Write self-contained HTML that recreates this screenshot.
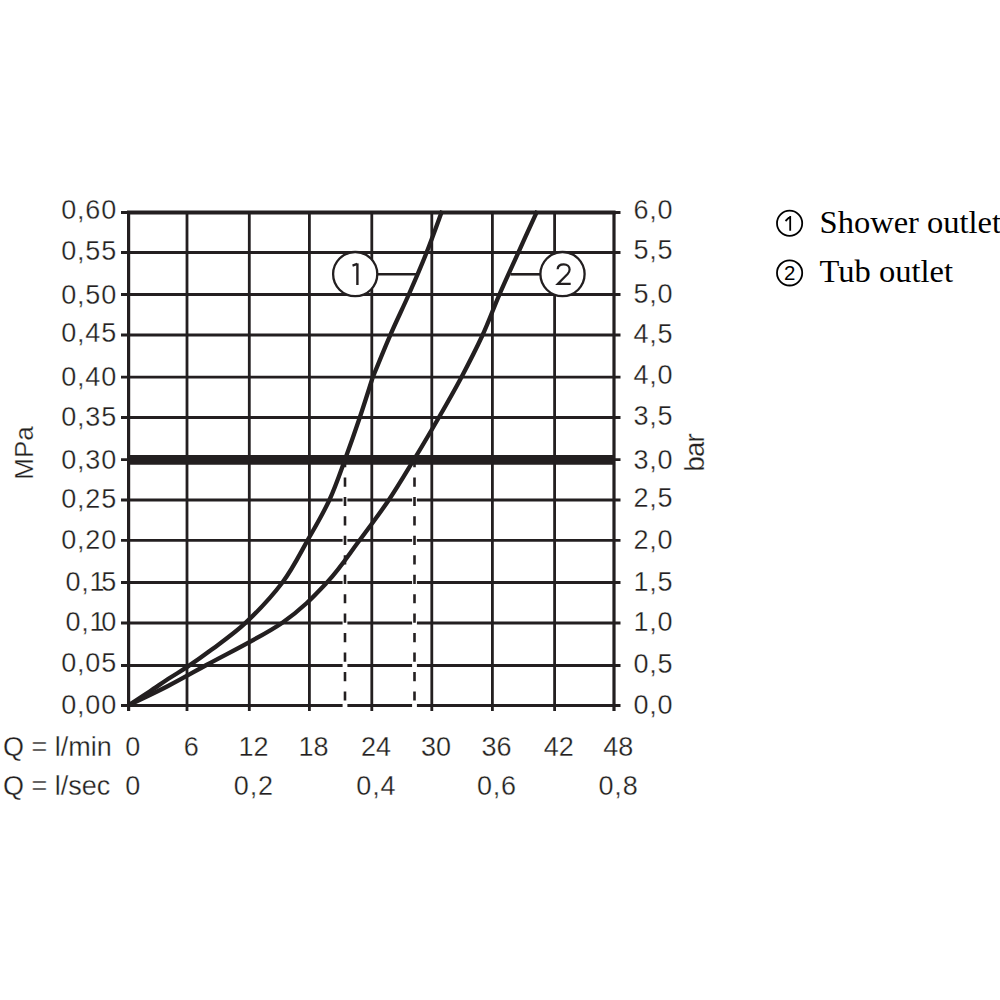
<!DOCTYPE html>
<html><head><meta charset="utf-8"><title>Pressure flow chart</title>
<style>
html,body{margin:0;padding:0;background:#fff;}
body{width:1000px;height:1000px;overflow:hidden;position:relative;}
svg{position:absolute;left:0;top:0;display:block;}
.s{font-family:"Liberation Sans",sans-serif;}
</style></head><body>
<svg width="1000" height="1000" viewBox="0 0 1000 1000" font-family="Liberation Sans, sans-serif">
<g stroke="#231f20" fill="none" stroke-linecap="butt">
<line x1="128.6" y1="211.0" x2="128.6" y2="711" stroke-width="3.2"/>
<line x1="187.0" y1="212.5" x2="187.0" y2="711" stroke-width="2.8"/>
<line x1="249.3" y1="212.5" x2="249.3" y2="711" stroke-width="2.8"/>
<line x1="309.4" y1="212.5" x2="309.4" y2="711" stroke-width="2.8"/>
<line x1="371.8" y1="212.5" x2="371.8" y2="711" stroke-width="2.8"/>
<line x1="431.8" y1="212.5" x2="431.8" y2="711" stroke-width="2.8"/>
<line x1="492.4" y1="212.5" x2="492.4" y2="711" stroke-width="2.8"/>
<line x1="554.6" y1="212.5" x2="554.6" y2="711" stroke-width="2.8"/>
<line x1="614.0" y1="211.0" x2="614.0" y2="711" stroke-width="3.2"/>
<line x1="121" y1="212.5" x2="620.5" y2="212.5" stroke-width="2.8"/>
<line x1="127" y1="212.5" x2="615.6" y2="212.5" stroke-width="3.8"/>
<line x1="121" y1="252.5" x2="620.5" y2="252.5" stroke-width="2.8"/>
<line x1="121" y1="294.5" x2="620.5" y2="294.5" stroke-width="2.8"/>
<line x1="121" y1="335.0" x2="620.5" y2="335.0" stroke-width="2.8"/>
<line x1="121" y1="377.2" x2="620.5" y2="377.2" stroke-width="2.8"/>
<line x1="121" y1="417.5" x2="620.5" y2="417.5" stroke-width="2.8"/>
<line x1="121" y1="500.0" x2="620.5" y2="500.0" stroke-width="2.8"/>
<line x1="121" y1="540.3" x2="620.5" y2="540.3" stroke-width="2.8"/>
<line x1="121" y1="582.5" x2="620.5" y2="582.5" stroke-width="2.8"/>
<line x1="121" y1="623.0" x2="620.5" y2="623.0" stroke-width="2.8"/>
<line x1="121" y1="665.5" x2="620.5" y2="665.5" stroke-width="2.8"/>
<line x1="121" y1="705.5" x2="620.5" y2="705.5" stroke-width="2.8"/>
<line x1="127" y1="705.5" x2="615.6" y2="705.5" stroke-width="3.2"/>
<line x1="128" y1="459.85" x2="615" y2="459.85" stroke-width="9.9"/>
<line x1="121" y1="459.6" x2="620.5" y2="459.6" stroke-width="2.6"/>
<line x1="345.0" y1="465" x2="345.0" y2="708" stroke="#fff" stroke-width="4.8"/>
<line x1="345.0" y1="458.5" x2="345.0" y2="705" stroke-width="2.6" stroke-dasharray="9.2 10.25" stroke-dashoffset="0.5"/>
<line x1="414.5" y1="465" x2="414.5" y2="708" stroke="#fff" stroke-width="4.8"/>
<line x1="414.5" y1="458.5" x2="414.5" y2="705" stroke-width="2.6" stroke-dasharray="9.2 10.25" stroke-dashoffset="0.5"/>
<path d="M129.0,705.0 C132.5,702.7 143.2,695.7 150.0,691.2 C156.8,686.7 163.7,681.9 170.0,677.8 C176.3,673.7 181.3,670.9 188.0,666.4 C194.7,661.9 200.4,658.0 210.0,650.8 C219.6,643.5 233.4,634.3 245.5,622.9 C257.6,611.5 272.0,596.3 282.4,582.5 C292.8,568.7 299.9,553.9 307.7,540.1 C315.5,526.4 323.2,513.4 329.4,500.0 C335.6,486.6 340.0,473.3 345.0,459.6 C350.0,445.9 355.0,431.6 359.6,418.0 C364.2,404.4 370.4,384.7 372.5,378.0" fill="none" stroke-width="4.3" stroke-linejoin="round"/>
<path d="M372.5,378.0 C375.4,370.9 384.1,349.2 390.2,335.3 C396.2,321.4 402.7,308.3 408.8,294.5 C414.9,280.7 421.1,266.4 426.6,252.5 C432.2,238.6 439.5,217.8 442.1,210.8" fill="none" stroke-width="4.3" stroke-linejoin="round"/>
<path d="M129.0,705.0 C135.5,701.8 155.1,692.7 168.0,686.0 C180.9,679.3 187.4,675.5 206.4,665.0 C225.4,654.5 261.9,636.7 282.0,622.9 C302.1,609.1 314.1,596.1 327.0,582.4 C339.9,568.7 349.1,554.2 359.4,540.5 C369.7,526.8 379.7,513.5 388.8,500.0 C397.9,486.5 405.6,473.3 414.0,459.5 C422.4,445.7 431.1,430.9 439.0,417.2 C446.9,403.5 454.0,391.1 461.3,377.4 C468.6,363.7 476.2,348.8 482.6,335.0 C489.0,321.2 493.4,308.3 499.4,294.6 C505.3,280.9 512.0,266.6 518.3,252.6 C524.6,238.6 534.1,217.8 537.3,210.8" fill="none" stroke-width="4.3" stroke-linejoin="round"/>
<line x1="377" y1="274.3" x2="417" y2="274.3" stroke-width="2.6"/>
<line x1="510.5" y1="274.3" x2="541" y2="274.3" stroke-width="2.6"/>
<circle cx="355.2" cy="274.1" r="22.1" fill="#fff" stroke-width="2.3"/>
<circle cx="562.5" cy="274.1" r="22.1" fill="#fff" stroke-width="2.3"/>
<path d="M357.4,263.4 L357.4,285" stroke-width="2.4"/>
<path d="M352.5,265.6 L357.2,263.9" stroke-width="2.2"/>
<path d="M557.6,269.2 C557.8,265.8 560.5,264.3 563.8,264.3 C567.3,264.3 569.6,266.6 569.6,269.4 C569.6,271.2 568.8,272.6 567.6,274 L557.8,283.9 L570.7,283.9" stroke-width="2.2" stroke-linejoin="miter"/>
</g>
<g fill="#231f20" font-family="Liberation Sans, sans-serif" stroke="#fff" stroke-width="0.3">
<text x="117.0" y="218.7" text-anchor="end" font-size="27" letter-spacing="0.8">0,60</text>
<text x="633.5" y="218.7" text-anchor="start" font-size="27" letter-spacing="0.8">6,0</text>
<text x="117.0" y="259.7" text-anchor="end" font-size="27" letter-spacing="0.8">0,55</text>
<text x="633.5" y="258.8" text-anchor="start" font-size="27" letter-spacing="0.8">5,5</text>
<text x="117.0" y="303.9" text-anchor="end" font-size="27" letter-spacing="0.8">0,50</text>
<text x="633.5" y="303.4" text-anchor="start" font-size="27" letter-spacing="0.8">5,0</text>
<text x="117.0" y="342.4" text-anchor="end" font-size="27" letter-spacing="0.8">0,45</text>
<text x="633.5" y="343.2" text-anchor="start" font-size="27" letter-spacing="0.8">4,5</text>
<text x="117.0" y="386.4" text-anchor="end" font-size="27" letter-spacing="0.8">0,40</text>
<text x="633.5" y="384.2" text-anchor="start" font-size="27" letter-spacing="0.8">4,0</text>
<text x="117.0" y="425.5" text-anchor="end" font-size="27" letter-spacing="0.8">0,35</text>
<text x="633.5" y="425.1" text-anchor="start" font-size="27" letter-spacing="0.8">3,5</text>
<text x="117.0" y="468.9" text-anchor="end" font-size="27" letter-spacing="0.8">0,30</text>
<text x="633.5" y="469.2" text-anchor="start" font-size="27" letter-spacing="0.8">3,0</text>
<text x="117.0" y="507.6" text-anchor="end" font-size="27" letter-spacing="0.8">0,25</text>
<text x="633.5" y="507.2" text-anchor="start" font-size="27" letter-spacing="0.8">2,5</text>
<text x="117.0" y="549.2" text-anchor="end" font-size="27" letter-spacing="0.8">0,20</text>
<text x="633.5" y="549.0" text-anchor="start" font-size="27" letter-spacing="0.8">2,0</text>
<text x="117.0" y="591.3" text-anchor="end" font-size="27" letter-spacing="0.8">0,1<tspan dx="-4.2">5</tspan></text>
<text x="633.5" y="591.1" text-anchor="start" font-size="27" letter-spacing="0.8">1,5</text>
<text x="117.0" y="630.9" text-anchor="end" font-size="27" letter-spacing="0.8">0,1<tspan dx="-4.2">0</tspan></text>
<text x="633.5" y="631.1" text-anchor="start" font-size="27" letter-spacing="0.8">1,0</text>
<text x="117.0" y="671.7" text-anchor="end" font-size="27" letter-spacing="0.8">0,05</text>
<text x="633.5" y="672.6" text-anchor="start" font-size="27" letter-spacing="0.8">0,5</text>
<text x="117.0" y="714.4" text-anchor="end" font-size="27" letter-spacing="0.8">0,00</text>
<text x="633.5" y="714.4" text-anchor="start" font-size="27" letter-spacing="0.8">0,0</text>
<text x="132.8" y="756.0" text-anchor="middle" font-size="27" >0</text>
<text x="191.2" y="756.0" text-anchor="middle" font-size="27" >6</text>
<text x="253.5" y="756.0" text-anchor="middle" font-size="27" >12</text>
<text x="313.6" y="756.0" text-anchor="middle" font-size="27" >18</text>
<text x="376.0" y="756.0" text-anchor="middle" font-size="27" >24</text>
<text x="436.0" y="756.0" text-anchor="middle" font-size="27" >30</text>
<text x="496.6" y="756.0" text-anchor="middle" font-size="27" >36</text>
<text x="558.8" y="756.0" text-anchor="middle" font-size="27" >42</text>
<text x="618.2" y="756.0" text-anchor="middle" font-size="27" >48</text>
<text x="133.1" y="794.5" text-anchor="middle" font-size="27" letter-spacing="0.8">0</text>
<text x="253.8" y="794.5" text-anchor="middle" font-size="27" letter-spacing="0.8">0,2</text>
<text x="376.3" y="794.5" text-anchor="middle" font-size="27" letter-spacing="0.8">0,4</text>
<text x="496.9" y="794.5" text-anchor="middle" font-size="27" letter-spacing="0.8">0,6</text>
<text x="618.5" y="794.5" text-anchor="middle" font-size="27" letter-spacing="0.8">0,8</text>
<text x="3.0" y="756.0" text-anchor="start" font-size="27" >Q = l/min</text>
<text x="3.0" y="794.5" text-anchor="start" font-size="27" >Q = l/sec</text>
<text transform="translate(32.8,453) rotate(-90)" text-anchor="middle" font-size="26">MPa</text>
<text transform="translate(703.8,452.8) rotate(-90)" text-anchor="middle" font-size="27.5" letter-spacing="-0.8">bar</text>
</g>

<circle cx="789.6" cy="223.3" r="12.6" fill="none" stroke="#000" stroke-width="1.8"/>
<path d="M790.2,216 L790.2,230.7 M785.5,221 L790,216.6" stroke="#000" stroke-width="1.8" fill="none"/>
<text x="819.6" y="232.6" style="font-family:'Liberation Serif',serif" font-size="32.5" fill="#000">Shower outlet</text>
<circle cx="789.6" cy="272.9" r="12.6" fill="none" stroke="#000" stroke-width="1.8"/>
<text x="789.7" y="279.9" text-anchor="middle" font-size="20.5" fill="#000">2</text>
<text x="819.6" y="282" style="font-family:'Liberation Serif',serif" font-size="32.5" fill="#000">Tub outlet</text>

</svg>
</body></html>
